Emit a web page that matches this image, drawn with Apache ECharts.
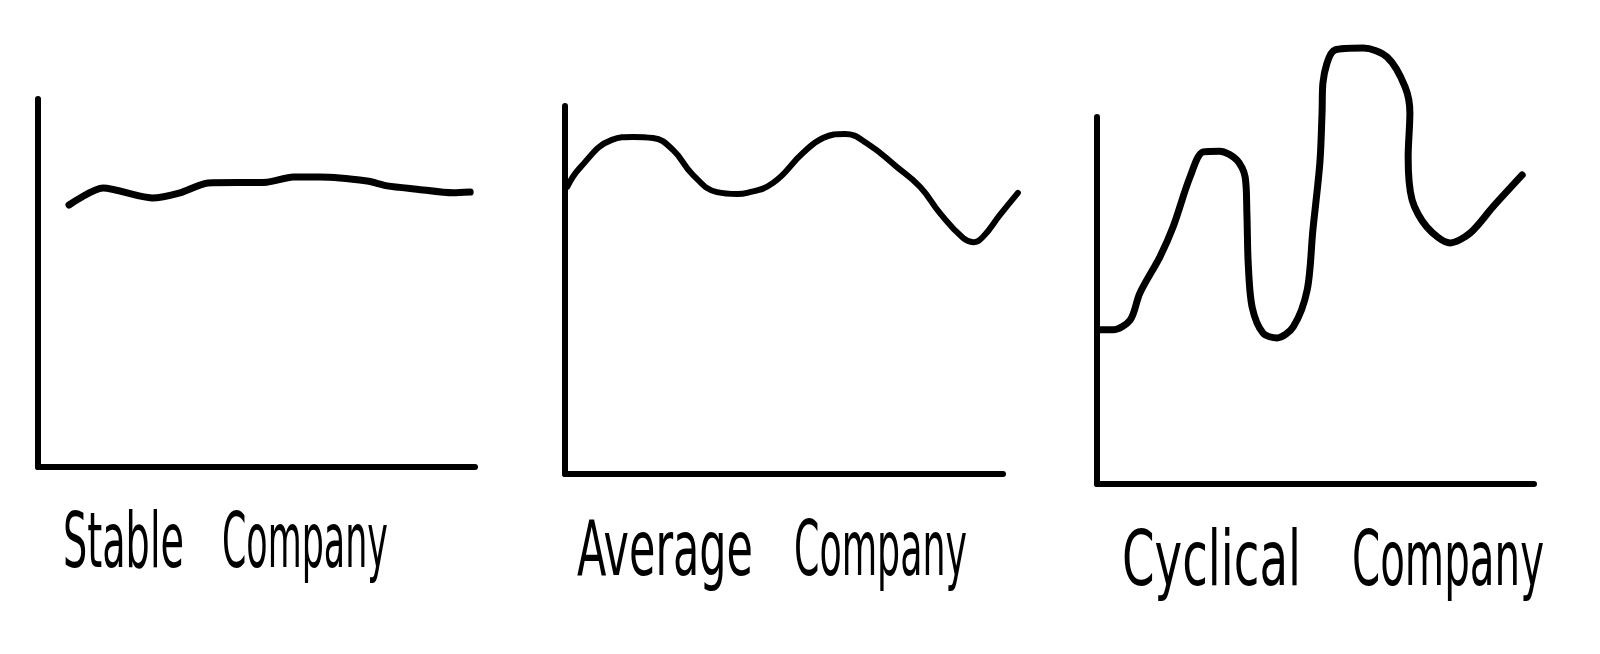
<!DOCTYPE html>
<html>
<head>
<meta charset="utf-8">
<script src="https://cdn.jsdelivr.net/npm/echarts@6/dist/echarts.min.js"></script>
<style>html,body{margin:0;padding:0;background:#fff;}#chart{width:1600px;height:654px;}</style>
</head>
<body>
<div id="chart"></div>
<script>
// Panel titles
var titles = ['Stable Company', 'Average Company', 'Cyclical Company'];

// Stable company (time 0-100, value 0-100)
var stableX = [7.1, 14.9, 26.1, 32.5, 38.9, 52.4, 58.4, 64.5, 75.3, 79.9, 86.7, 95.0, 98.9];
var stableY = [71.2, 75.8, 73.1, 74.5, 77.2, 77.4, 78.8, 78.8, 77.7, 76.4, 75.5, 74.5, 74.7];

// Average company
var averageX = [0.5, 3.4, 10.7, 15.5, 20.1, 24.7, 29.2, 34.7, 39.3, 41.6, 47.5, 54.3, 58.9, 63.9, 68.9, 75.8, 81.1, 85.6, 90.9, 93.2, 95.4, 99.3, 103.4];
var averageY = [78.0, 83.2, 90.8, 91.6, 91.3, 88.0, 81.3, 76.6, 76.1, 76.4, 79.1, 87.2, 91.3, 92.4, 89.9, 83.4, 78.0, 70.9, 64.1, 63.0, 64.4, 70.4, 76.4];

// Cyclical company
var cyclicalX = [0.7, 3.7, 7.6, 9.8, 14.4, 17.4, 21.3, 24.3, 28.1, 32.0, 33.9, 34.3, 34.6, 35.5, 38.0, 41.2, 44.9, 48.1, 49.4, 51.0, 51.5, 51.7, 54.5, 60.9, 66.4, 70.5, 71.6, 71.2, 72.1, 75.5, 80.8, 85.4, 90.6, 97.3];
var cyclicalY = [42.0, 42.0, 44.7, 52.0, 61.9, 70.0, 83.7, 90.5, 90.7, 88.3, 83.7, 73.8, 60.2, 48.2, 41.1, 39.8, 42.8, 52.9, 69.2, 87.5, 101.1, 109.3, 118.3, 118.8, 116.3, 108.2, 101.1, 89.1, 77.4, 70.0, 65.7, 68.4, 75.5, 84.2];

function pairs(xs, ys) { return xs.map(function (x, i) { return [x, ys[i]]; }); }

// layout (pixels)
var grids = [
  {left: 38, top: 99, w: 437, height: 368},
  {left: 565, top: 106, w: 438, height: 368},
  {left: 1097, top: 117, w: 437, height: 367}
];
var xMax = [100, 104, 100];
var lineWidths = [7, 6, 7];
var smooths = [0.25, 0.45, 0.3];
var datasets = [pairs(stableX, stableY), pairs(averageX, averageY), pairs(cyclicalX, cyclicalY)];
// word boxes: [left, width] per word, baseline per title
var wordBoxes = [[[63, 121], [222, 166]], [[577, 176], [794, 173]], [[1122, 179], [1352, 192]]];
var baselines = [585, 593, 603];
var FONT = '46px "Liberation Sans Narrow", "DejaVu Sans Condensed", "Open Sans", sans-serif';
var AXW = 6;

var ctx = document.createElement('canvas').getContext('2d');
ctx.font = FONT;

var option = {
  backgroundColor: '#fff',
  animation: false,
  grid: grids.map(function (g, i) {
    return {left: g.left, top: g.top, width: g.w * xMax[i] / 100, height: g.height};
  }),
  xAxis: [0, 1, 2].map(function (i) {
    return {type: 'value', gridIndex: i, min: 0, max: xMax[i], axisLine: {show: false},
      axisTick: {show: false}, axisLabel: {show: false}, splitLine: {show: false}};
  }),
  yAxis: [0, 1, 2].map(function (i) {
    return {type: 'value', gridIndex: i, min: 0, max: 100,
      axisLine: {show: true, onZero: false, lineStyle: {color: '#000', width: AXW, cap: 'round'}},
      axisTick: {show: false}, axisLabel: {show: false}, splitLine: {show: false}};
  }),
  series: [0, 1, 2].map(function (i) {
    return {
      type: 'line', xAxisIndex: i, yAxisIndex: i, data: datasets[i],
      showSymbol: false, smooth: smooths[i], clip: false,
      lineStyle: {color: '#000', width: lineWidths[i], cap: 'round', join: 'round'},
      markLine: {
        silent: true, symbol: ['none', 'none'], label: {show: false},
        lineStyle: {color: '#000', width: AXW, type: 'solid', cap: 'round'},
        emphasis: {disabled: true},
        data: [[{coord: [0, 0]}, {coord: [100, 0]}]]
      }
    };
  }),
  graphic: []
};

titles.forEach(function (t, i) {
  t.split(' ').forEach(function (w, j) {
    var box = wordBoxes[i][j];
    var mw = ctx.measureText(w).width;
    option.graphic.push({
      type: 'text', x: box[0], y: baselines[i], scaleX: box[1] / mw, scaleY: 1.65,
      style: {text: w, fill: '#000', font: FONT, verticalAlign: 'bottom', align: 'left'}
    });
  });
});

var chart = echarts.init(document.getElementById('chart'), null, {renderer: 'canvas'});
chart.setOption(option);
</script>
</body>
</html>
